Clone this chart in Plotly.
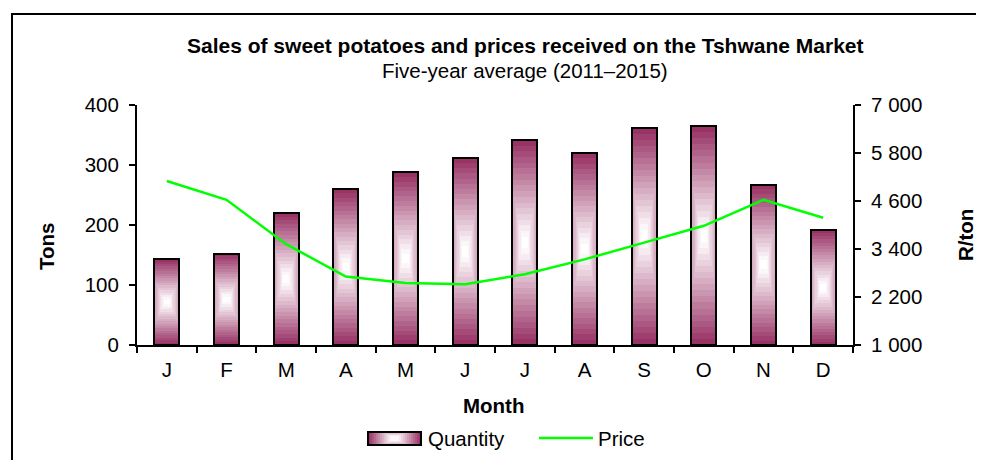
import plotly.graph_objects as go
from plotly.subplots import make_subplots

# ---------------- data ----------------
months = ["J", "F", "M", "A", "M", "J", "J", "A", "S", "O", "N", "D"]
quantity_tons = [143, 152, 220, 260, 288, 312, 342, 320, 362, 365, 267, 192]
price_r_per_ton = [5100, 4630, 3520, 2710, 2550, 2520, 2770, 3140, 3560, 3980, 4630, 4180]
left_ticks = [0, 100, 200, 300, 400]
right_ticks = [1000, 2200, 3400, 4600, 5800, 7000]

# ---------------- layout constants (window pixel coordinates) ----------------
OFF = 8                      # page body margin
WIN_W, WIN_H = 984, 460
W, H = WIN_W - OFF, WIN_H - OFF
L, R, T, B = 137, 853, 105, 345
PW, PH = R - L, B - T
FONT = "Liberation Sans, Arial, sans-serif"
FS = 20.5
MAROON = (153, 51, 102)
BAR_W = 0.42
N_LAYERS = 18


def px(x, y):
    return (x - L) / PW, (B - y) / PH


def mix(t):
    t = min(1.0, max(0.0, t))
    r = [round(c + (255 - c) * t) for c in MAROON]
    return f"rgb({r[0]},{r[1]},{r[2]})"


def width_factor(t):
    # full width in the outer bands, narrowing toward the bright core
    if t <= 0.5:
        return 1.0
    return 1.0 - (t - 0.5) / 0.5 * 0.85


x_idx = list(range(len(months)))

fig = make_subplots(specs=[[{"secondary_y": True}]])

# gradient bars built from nested layers
for k in range(N_LAYERS):
    t = k / N_LAYERS
    fig.add_trace(
        go.Bar(
            x=x_idx,
            y=[v * (1 - t) for v in quantity_tons],
            base=[v * t / 2 for v in quantity_tons],
            width=BAR_W * width_factor(t),
            marker=dict(color=mix(t * 1.08), line=dict(width=0)),
            opacity=1,
            showlegend=False,
            hoverinfo="skip",
        ),
        secondary_y=False,
    )

# outline of the bars
fig.add_trace(
    go.Bar(
        x=x_idx,
        y=quantity_tons,
        width=BAR_W,
        name="Quantity",
        marker=dict(color="rgba(0,0,0,0)", line=dict(color="black", width=2)),
        opacity=1,
        showlegend=False,
    ),
    secondary_y=False,
)

fig.add_trace(
    go.Scatter(
        x=x_idx,
        y=price_r_per_ton,
        mode="lines",
        name="Price",
        line=dict(color="#00ff00", width=2.5),
        showlegend=False,
    ),
    secondary_y=True,
)

fig.update_layout(
    width=W,
    height=H,
    margin=dict(l=L - OFF, r=WIN_W - R, t=T - OFF, b=WIN_H - B, pad=0),
    barmode="overlay",
    bargap=0,
    plot_bgcolor="white",
    paper_bgcolor="white",
    separators=". ",
    font=dict(family=FONT, size=FS, color="black"),
    showlegend=False,
)

fig.update_xaxes(
    domain=[0, 1],
    range=[-0.5, len(months) - 0.5],
    tickmode="array",
    tickvals=x_idx,
    ticktext=months,
    ticks="",
    ticklabelstandoff=5,
    showline=True,
    linecolor="black",
    linewidth=2,
    showgrid=False,
    zeroline=False,
    minor=dict(
        tickmode="array",
        tickvals=[i - 0.5 for i in range(len(months) + 1)],
        ticks="outside",
        ticklen=6,
        tickwidth=2,
        tickcolor="black",
        showgrid=False,
    ),
    tickfont=dict(size=FS),
)

fig.update_yaxes(
    range=[0, 400],
    tickmode="array",
    tickvals=left_ticks,
    ticks="outside",
    ticklen=6,
    tickwidth=2,
    tickcolor="black",
    ticklabelstandoff=6,
    showline=True,
    linecolor="black",
    linewidth=2,
    showgrid=False,
    zeroline=False,
    tickfont=dict(size=FS),
    secondary_y=False,
)

fig.update_yaxes(
    range=[1000, 7000],
    tickmode="array",
    tickvals=right_ticks,
    tickformat=",d",
    ticks="outside",
    ticklen=6,
    tickwidth=2,
    tickcolor="black",
    ticklabelstandoff=6,
    showline=True,
    linecolor="black",
    linewidth=2,
    showgrid=False,
    zeroline=False,
    tickfont=dict(size=FS),
    secondary_y=True,
)

shapes = []
annotations = []

# outer chart border
x0, y0 = px(12, 14)
x1, y1 = px(WIN_W + 40, WIN_H + 40)
shapes.append(dict(type="rect", xref="paper", yref="paper", x0=x0, y0=y1, x1=x1, y1=y0,
                   line=dict(color="black", width=2), fillcolor="rgba(0,0,0,0)", layer="below"))


def ann(text, x, y, size=FS, bold=False, angle=0, xanchor="center"):
    ax, ay = px(x, y)
    annotations.append(dict(
        text=f"<b>{text}</b>" if bold else text,
        x=ax, y=ay, xref="paper", yref="paper", showarrow=False,
        xanchor=xanchor, yanchor="middle", textangle=angle,
        font=dict(family=FONT, size=size, color="black"),
    ))


ann("Sales of sweet potatoes and prices received on the Tshwane Market", 525, 45, size=21, bold=True)
ann("Five-year average (2011–2015)", 525, 70)
ann("Tons", 46, 247, bold=True, angle=-90)
ann("R/ton", 965, 235, bold=True, angle=-90)
ann("Month", 493, 405, bold=True)

# custom legend: gradient swatch
sx0, sx1, sy0, sy1 = 368, 421, 432, 445
NL = 12
for k in range(NL):
    t = k / NL
    cx, cy = (sx0 + sx1) / 2, (sy0 + sy1) / 2
    hw = (sx1 - sx0) / 2 * (1 - t * 0.9)
    hh = (sy1 - sy0) / 2 * (1.0 if t <= 0.55 else 1 - (t - 0.55) / 0.45 * 0.7)
    a0 = px(cx - hw, cy + hh)
    a1 = px(cx + hw, cy - hh)
    shapes.append(dict(type="rect", xref="paper", yref="paper", x0=a0[0], y0=a0[1], x1=a1[0], y1=a1[1],
                       line=dict(width=0), fillcolor=mix(t * 1.05)))
a0 = px(sx0, sy1)
a1 = px(sx1, sy0)
shapes.append(dict(type="rect", xref="paper", yref="paper", x0=a0[0], y0=a0[1], x1=a1[0], y1=a1[1],
                   line=dict(color="black", width=2), fillcolor="rgba(0,0,0,0)"))
ann("Quantity", 426, 438, xanchor="left")

l0 = px(539, 438)
l1 = px(593, 438)
shapes.append(dict(type="line", xref="paper", yref="paper", x0=l0[0], y0=l0[1], x1=l1[0], y1=l1[1],
                   line=dict(color="#00ff00", width=2.5)))
ann("Price", 596, 438, xanchor="left")

fig.update_layout(shapes=shapes, annotations=annotations)

fig.write_html("out.html")
